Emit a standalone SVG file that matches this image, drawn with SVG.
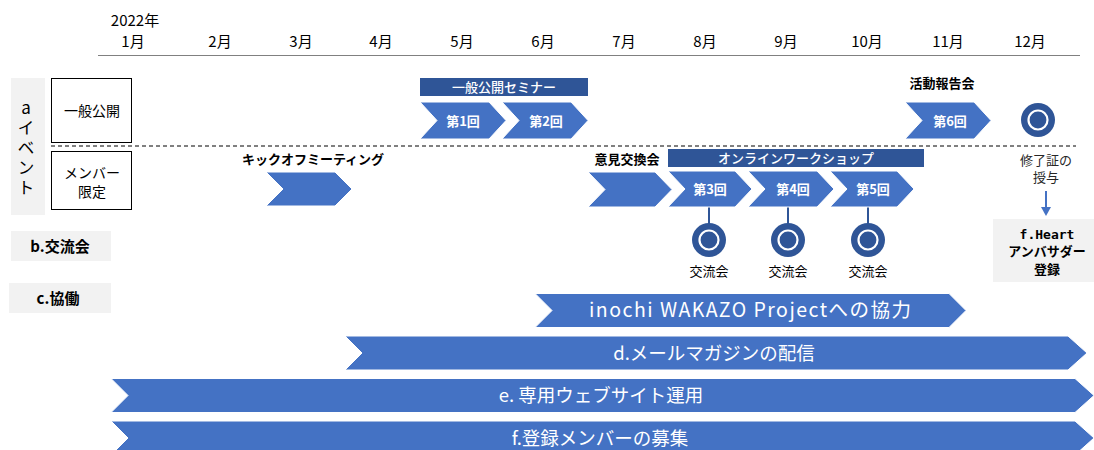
<svg xmlns="http://www.w3.org/2000/svg" width="1094" height="450" viewBox="0 0 1094 450">
<style>
text{font-family:"Noto Sans CJK JP","Noto Sans",sans-serif;text-anchor:middle;fill:#000}
.m{font-size:15px}
.w{fill:#fff}
.b{font-weight:bold}
.md{font-weight:500}
.chev{fill:#4472C4;stroke:#fff;stroke-width:1}
.bar{fill:#2F5597}
.gray{fill:#F2F2F2}
.box{fill:#fff;stroke:#000;stroke-width:1}
.lab{font-size:13px}
.big{font-size:18.5px;fill:#fff}
</style>
<defs>
<g id="ring"><circle r="17" fill="#2F5597"/><circle r="9.5" fill="none" stroke="#fff" stroke-width="2.2"/></g>
</defs>
<rect width="1094" height="450" fill="#fff"/>
<g id="header">
<text class="m" x="135" y="26">2022年</text>
<text class="m" x="133" y="47">1月</text>
<text class="m" x="220" y="47">2月</text>
<text class="m" x="301" y="47">3月</text>
<text class="m" x="381" y="47">4月</text>
<text class="m" x="462" y="47">5月</text>
<text class="m" x="543" y="47">6月</text>
<text class="m" x="624" y="47">7月</text>
<text class="m" x="705" y="47">8月</text>
<text class="m" x="786" y="47">9月</text>
<text class="m" x="867" y="47">10月</text>
<text class="m" x="948" y="47">11月</text>
<text class="m" x="1030" y="47">12月</text>
<line x1="98" y1="55.5" x2="1080" y2="55.5" stroke="#808080" stroke-width="1.2"/>
</g>
<g id="cat-a">
<rect class="gray" x="11" y="78" width="34" height="137"/>
<text x="26" y="149" style="font-size:17px;writing-mode:vertical-rl;text-orientation:upright;letter-spacing:3px">aイベント</text>
</g>
<g id="box-public">
<rect class="box" x="51.5" y="78.5" width="80" height="64"/>
<text x="92" y="116" style="font-size:14px">一般公開</text>
</g>
<g id="box-member">
<rect class="box" x="51.5" y="151.5" width="80" height="58"/>
<text x="92" y="178" style="font-size:14px">メンバー</text>
<text x="92" y="197" style="font-size:14px">限定</text>
</g>
<line x1="51" y1="146" x2="1076" y2="146" stroke="#000" stroke-width="1" stroke-dasharray="4,3"/>
<g id="cat-b">
<rect class="gray" x="11" y="231" width="100" height="30"/>
<text x="60" y="252" class="b" style="font-size:15px">b.交流会</text>
</g>
<g id="cat-c">
<rect class="gray" x="9" y="283" width="102" height="30"/>
<text x="58" y="304" class="b" style="font-size:15px">c.協働</text>
</g>
<g id="kickoff">
<text class="lab b" x="313" y="164">キックオフミーティング</text>
<polygon class="chev" points="266,172 335,172 352,189 335,206 266,206 283,189"/>
</g>
<g id="seminar">
<rect class="bar" x="420" y="78" width="168" height="18"/>
<text class="lab w md" x="504" y="92">一般公開セミナー</text>
</g>
<g id="s1">
<polygon class="chev" points="420,102 489,102 506,120.5 489,139 420,139 437,120.5"/>
<text class="lab w b" x="463" y="125.5">第1回</text>
</g>
<g id="s2">
<polygon class="chev" points="502,102 571,102 588,120.5 571,139 502,139 519,120.5"/>
<text class="lab w b" x="546" y="125.5">第2回</text>
</g>
<g id="exchange">
<text class="lab b" x="627" y="164">意見交換会</text>
<polygon class="chev" points="588,172 655,172 672,189.5 655,207 588,207 605,189.5"/>
</g>
<g id="workshop">
<rect class="bar" x="668" y="149" width="256" height="18"/>
<text class="lab w md" x="796" y="163">オンラインワークショップ</text>
</g>
<g id="connectors" stroke="#2F5597" stroke-width="2">
<line x1="709" y1="207" x2="709" y2="226"/>
<line x1="788" y1="207" x2="788" y2="226"/>
<line x1="868" y1="207" x2="868" y2="226"/>
<line x1="1046" y1="191" x2="1046" y2="208" stroke="#4472C4"/>
<polygon points="1041,207 1051,207 1046,216" fill="#4472C4" stroke="none"/>
</g>
<g id="s3">
<polygon class="chev" points="668,171 735,171 752,189 735,207 668,207 685,189"/>
<text class="lab w b" x="710" y="194">第3回</text>
</g>
<g id="s4">
<polygon class="chev" points="748,171 817,171 834,189 817,207 748,207 765,189"/>
<text class="lab w b" x="793" y="194">第4回</text>
</g>
<g id="s5">
<polygon class="chev" points="830,171 897,171 914,189 897,207 830,207 847,189"/>
<text class="lab w b" x="873" y="194">第5回</text>
</g>
<g id="x1"><use href="#ring" x="709" y="240"/><text class="lab" x="709" y="276">交流会</text></g>
<g id="x2"><use href="#ring" x="788" y="240"/><text class="lab" x="788" y="276">交流会</text></g>
<g id="x3"><use href="#ring" x="868" y="240"/><text class="lab" x="868" y="276">交流会</text></g>
<g id="report">
<text class="lab b" x="942" y="88">活動報告会</text>
<polygon class="chev" points="905,102 974,102 991,120.5 974,139 905,139 922,120.5"/>
<text class="lab w b" x="950" y="125.5">第6回</text>
</g>
<g id="cert">
<use href="#ring" x="1038" y="120"/>
<text class="lab" x="1046" y="165" style="fill:#262626">修了証の</text>
<text class="lab" x="1046" y="182" style="fill:#262626">授与</text>
</g>
<g id="heart">
<rect class="gray" x="993" y="219" width="101" height="63"/>
<text x="1047" y="239" class="b" style="font-family:'DejaVu Sans Mono','Liberation Mono',monospace;font-size:13px">f.Heart</text>
<text x="1047" y="256" class="lab b">アンバサダー</text>
<text x="1047" y="274" class="lab b">登録</text>
</g>
<g id="inochi">
<polygon class="chev" points="535,293.5 949,293.5 966,310.5 949,327.5 535,327.5 552,310.5"/>
<text class="big" x="750" y="317" style="font-size:19.5px" textLength="322" lengthAdjust="spacing">inochi WAKAZO Projectへの協力</text>
</g>
<g id="d">
<polygon class="chev" points="345,336 1068,336 1087,353 1068,370 345,370 362,353"/>
<text class="big" x="714" y="360">d.メールマガジンの配信</text>
</g>
<g id="e">
<polygon class="chev" points="111,378.5 1075,378.5 1094,395.5 1075,412.5 111,412.5 128,395.5"/>
<text class="big" x="601" y="402">e. 専用ウェブサイト運用</text>
</g>
<g id="f">
<polygon class="chev" points="111,421 1075,421 1094,438 1075,455 111,455 128,438"/>
<text class="big" x="600" y="445">f.登録メンバーの募集</text>
</g>
</svg>
